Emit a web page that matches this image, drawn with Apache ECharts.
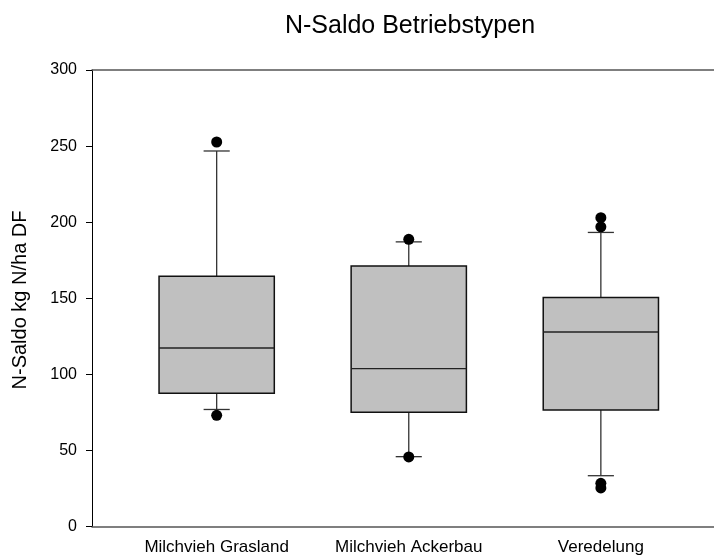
<!DOCTYPE html>
<html>
<head>
<meta charset="utf-8">
<script src="https://cdn.jsdelivr.net/npm/echarts@6/dist/echarts.min.js"></script>
<style>html,body{margin:0;padding:0;background:#fff}#c{width:714px;height:556px}</style>
</head>
<body>
<div id="c"></div>
<script>
var categories = ['Milchvieh Grasland', 'Milchvieh Ackerbau', 'Veredelung'];
var whiskerLow = [77, 46, 33.5];
var q1 = [87.6, 75.2, 76.7];
var median = [117.4, 103.8, 127.9];
var q3 = [164.5, 171.3, 150.5];
var whiskerHigh = [246.8, 187.1, 193.3];
var outlierGroup = [1, 1, 2, 2, 3, 3, 3, 3];
var outlierValue = [252.7, 73.2, 188.8, 45.8, 203, 197, 28.5, 25.5];
var yTicks = [0, 50, 100, 150, 200, 250, 300];

var boxData = categories.map(function (c, i) {
  return [i + 1, whiskerLow[i], q1[i], median[i], q3[i], whiskerHigh[i]];
});
var outlierData = outlierGroup.map(function (g, i) { return [g, outlierValue[i]]; });

var FONT = 'Liberation Sans, Arial, sans-serif';
var chart = echarts.init(document.getElementById('c'));
chart.setOption({
  animation: false,
  backgroundColor: '#fff',
  grid: { left: 92, right: 0, top: 70, bottom: 29.3, containLabel: false },
  graphic: [
    { type: 'text', x: 410, y: 26, style: { text: 'N-Saldo Betriebstypen', font: '25px ' + FONT, fill: '#000', textAlign: 'center', textVerticalAlign: 'middle' } },
    { type: 'text', x: 20, y: 300, rotation: Math.PI / 2, style: { text: 'N-Saldo kg N/ha DF', font: '20px ' + FONT, fill: '#000', textAlign: 'center', textVerticalAlign: 'middle' } }
  ],
  xAxis: [{
    type: 'value', min: 0.351, max: 3.589, position: 'bottom',
    axisLine: { show: true, lineStyle: { color: '#555', width: 1.5 } },
    axisTick: { show: false },
    splitLine: { show: false },
    axisLabel: {
      customValues: [1, 2, 3], margin: 12, color: '#000', fontSize: 17, fontFamily: FONT,
      formatter: function (v) { return categories[Math.round(v) - 1] || ''; }
    }
  }, {
    type: 'value', min: 0.351, max: 3.589, position: 'top',
    axisLine: { show: true, lineStyle: { color: '#555', width: 1.5 } },
    axisTick: { show: false }, axisLabel: { show: false }, splitLine: { show: false }
  }],
  yAxis: {
    type: 'value', min: 0, max: 300, interval: 50,
    axisLine: { show: true, lineStyle: { color: '#000', width: 1 } },
    axisTick: { show: true, length: 6, lineStyle: { color: '#000' } },
    splitLine: { show: false },
    axisLabel: { margin: 15, color: '#000', fontSize: 16, fontFamily: FONT,
      formatter: function (v) { return yTicks.indexOf(v) >= 0 ? String(v) : ''; } }
  },
  series: [{
    type: 'custom',
    data: boxData,
    encode: { x: 0, y: [1, 2, 3, 4, 5] },
    renderItem: function (params, api) {
      var x = api.value(0);
      var half = 0.3, cap = 0.068;
      var pLow = api.coord([x, api.value(1)]);
      var pQ1 = api.coord([x, api.value(2)]);
      var pMed = api.coord([x, api.value(3)]);
      var pQ3 = api.coord([x, api.value(4)]);
      var pHigh = api.coord([x, api.value(5)]);
      var xl = api.coord([x - half, 0])[0], xr = api.coord([x + half, 0])[0];
      var cl = api.coord([x - cap, 0])[0], cr = api.coord([x + cap, 0])[0];
      var wStyle = { stroke: '#333', lineWidth: 1.3 };
      return {
        type: 'group',
        children: [
          { type: 'line', shape: { x1: pHigh[0], y1: pHigh[1], x2: pQ3[0], y2: pQ3[1] }, style: wStyle },
          { type: 'line', shape: { x1: pQ1[0], y1: pQ1[1], x2: pLow[0], y2: pLow[1] }, style: wStyle },
          { type: 'line', shape: { x1: cl, y1: pHigh[1], x2: cr, y2: pHigh[1] }, style: wStyle },
          { type: 'line', shape: { x1: cl, y1: pLow[1], x2: cr, y2: pLow[1] }, style: wStyle },
          { type: 'rect', shape: { x: xl, y: pQ3[1], width: xr - xl, height: pQ1[1] - pQ3[1] }, style: { fill: '#c0c0c0', stroke: '#111', lineWidth: 1.5 } },
          { type: 'line', shape: { x1: xl, y1: pMed[1], x2: xr, y2: pMed[1] }, style: { stroke: '#222', lineWidth: 1.3 } }
        ]
      };
    },
    z: 2
  }, {
    type: 'scatter',
    data: outlierData,
    symbol: 'circle',
    symbolSize: 11,
    itemStyle: { color: '#000', opacity: 1 },
    z: 5
  }]
});
</script>
</body>
</html>
